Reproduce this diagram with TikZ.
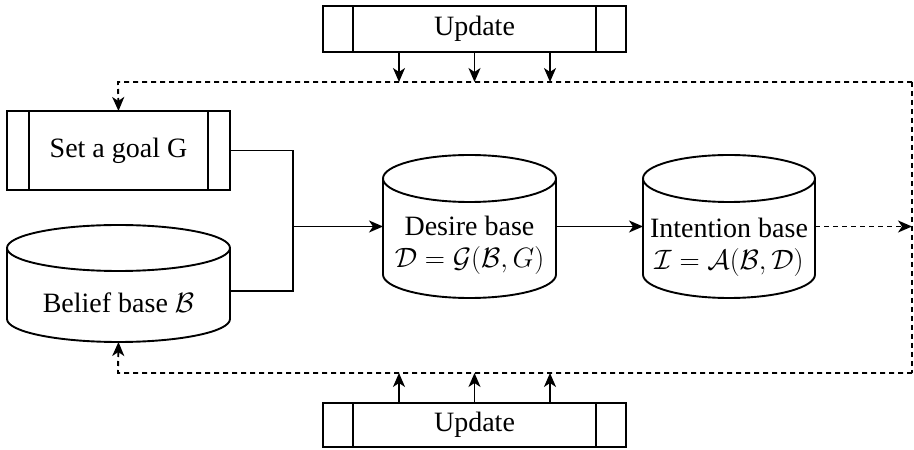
\RequirePackage{fix-cm}
\documentclass[tikz,border=0pt]{standalone}
\usepackage{fontspec}
\setmainfont{Liberation Serif}
\usetikzlibrary{arrows.meta,calc}
\tikzset{
  base/.style={inner sep=0pt, outer sep=0pt, font=\rmfamily\fontsize{28}{32}\selectfont},
  proc/.style n args={3}{base, draw, minimum width=#1, minimum height=#2,
    path picture={
      \draw ([xshift=#3]path picture bounding box.north west) -- ([xshift=#3]path picture bounding box.south west);
      \draw ([xshift=-#3]path picture bounding box.north east) -- ([xshift=-#3]path picture bounding box.south east);
    }},
  cylhold/.style 2 args={base, minimum width=#1, minimum height=#2},
  txt/.style={base, align=center},
  arr/.style={-{Stealth[length=14pt,width=12pt,inset=4pt]}},
  dsh/.style={dash pattern=on 5pt off 4pt},
}
\newcommand{\drawcyl}[3]{%
  \draw ([yshift=-#3]#1.north) ellipse [x radius=#2, y radius=#3];
  \draw ([yshift=-#3]#1.north west) -- ([yshift=#3]#1.south west)
    arc[start angle=180, end angle=360, x radius=#2, y radius=#3]
    -- ([yshift=-#3]#1.north east);}
\begin{document}
\begin{tikzpicture}[x=1pt, y=1pt, line width=1.9pt]
\useasboundingbox (0,0) rectangle (914,450);
% process boxes
\node[proc={303}{46}{30}] (topU) at (474.5,421) {Update};
\node[proc={303}{44}{30}] (botU) at (474.5,25) {Update};
\node[proc={223}{79}{22}] (goal) at (118.5,299.5) {Set a goal G};
% cylinders
\node[cylhold={223}{117}] (belief) at (118.5,166.5) {};
\drawcyl{belief}{111.5}{23}
\node[txt] (belieftxt) at ([yshift=-19.5]belief.center) {Belief base $\mathcal{B}$};
\node[cylhold={173}{143}] (desire) at (469.5,223.5) {};
\drawcyl{desire}{86.5}{23.5}
\node[txt] (desiretxt) at ([yshift=-19]desire.center) {Desire base\\$\mathcal{D}=\mathcal{G}(\mathcal{B},G)$};
\node[cylhold={172}{143}] (intention) at (729,223.5) {};
\drawcyl{intention}{86}{23.5}
\node[txt] (intentiontxt) at ([yshift=-21]intention.center) {Intention base\\$\mathcal{I}=\mathcal{A}(\mathcal{B},\mathcal{D})$};
% loop corners
\coordinate (tl) at (118,368);
\coordinate (tr) at (912,368);
\coordinate (br) at (912,77);
\coordinate (bl) at (118,77);
\draw[dsh, arr] (tr) -- (tl) -- (goal.north);
\draw[dsh, arr] (br) -- (bl) -- (belief.south);
\draw[dsh] (tr) -- (br);
% update arrows
\foreach \d in {-75.5,0,75.5}{
  \draw[arr] ([xshift=\d]topU.south) -- ([xshift=\d]topU.south |- tl);
  \draw[arr] ([xshift=\d]botU.north) -- ([xshift=\d]botU.north |- bl);
}
% junction
\coordinate (junc) at ([xshift=-90]desire.west);
\draw (goal.east) -| (junc) |- ([yshift=-7.5]belief.east);
\draw[arr] (junc) -- (desire.west);
\draw[arr] (desire.east) -- (intention.west);
\draw[dsh, arr] (intention.east) -- (intention.east -| tr);
\end{tikzpicture}
\end{document}
